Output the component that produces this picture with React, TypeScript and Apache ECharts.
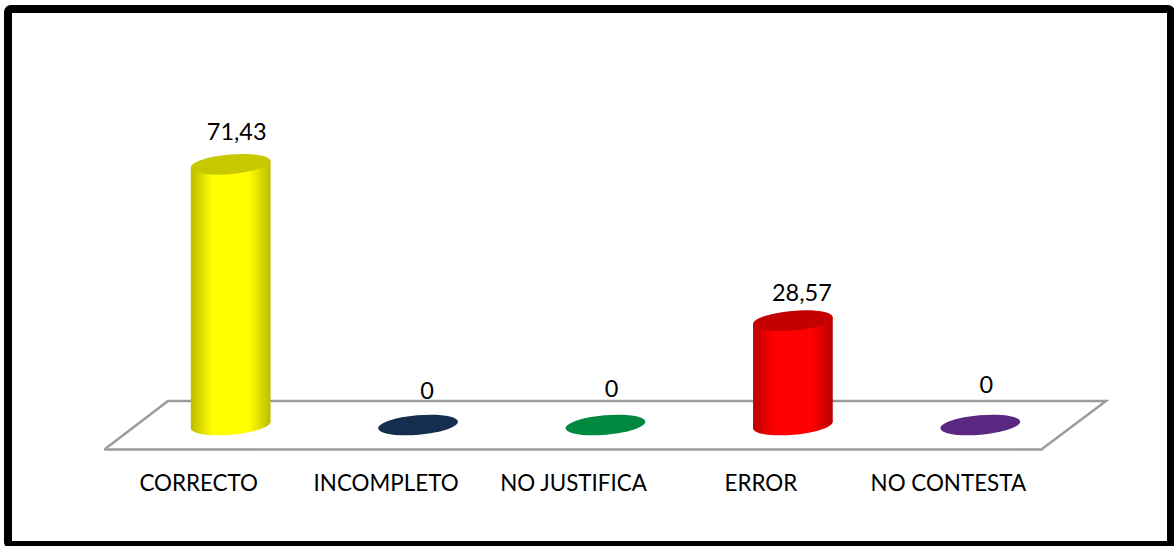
import React, { useEffect, useRef } from "react";
import * as echarts from "echarts";

const categories = ["CORRECTO", "INCOMPLETO", "NO JUSTIFICA", "ERROR", "NO CONTESTA"];
const values = [71.43, 0, 0, 28.57, 0];
const bodyColors = ["#ffff00", "#17365d", "#00893f", "#ff0000", "#5a2781"];
const edgeColors = ["#bcbc00", "#10263f", "#006a30", "#bc0000", "#3f1b5a"];
const topColors = ["#c8c800", "#152e4f", "#00893f", "#c40000", "#5a2781"];
// Hand-placed offset of each value label from the top of its cylinder, as in the source chart
const labelDx = [6, 9, 6, 9, 6];
const labelDy = [-33, -35, -37, -29, -41];

const DEPTH_X = 32;
const DEPTH_Y = -24;
const RX = 40;
const RY = 9.8;
const TILT = (5 * Math.PI) / 180;
const FONT = "Lato";

function renderCylinder(params: any, api: any) {
  const i = api.value(0);
  const v = api.value(1);
  const base = api.coord([i, 0]);
  const top = api.coord([i, v]);
  const cx = base[0] + DEPTH_X;
  const by = base[1] + DEPTH_Y;
  const ty = top[1] + DEPTH_Y;
  const dx = RX * Math.cos(TILT);
  const dy = RX * Math.sin(TILT);
  const grad = {
    type: "linear", x: 0, y: 0, x2: 1, y2: 0,
    colorStops: [
      { offset: 0, color: edgeColors[i] },
      { offset: 0.27, color: bodyColors[i] },
      { offset: 0.73, color: bodyColors[i] },
      { offset: 1, color: edgeColors[i] },
    ],
  };
  const children: any[] = [];
  if (v > 0) {
    children.push({
      type: "ellipse", x: cx, y: by, rotation: TILT,
      shape: { cx: 0, cy: 0, rx: RX, ry: RY }, style: { fill: grad },
    });
    children.push({
      type: "polygon",
      shape: { points: [[cx - dx, ty + dy], [cx + dx, ty - dy], [cx + dx, by - dy], [cx - dx, by + dy]] },
      style: { fill: grad },
    });
  }
  children.push({
    type: "ellipse", x: cx, y: ty, rotation: TILT,
    shape: { cx: 0, cy: 0, rx: RX, ry: RY }, style: { fill: topColors[i] },
  });
  children.push({
    type: "text",
    x: cx + labelDx[i], y: ty + labelDy[i],
    style: {
      text: String(v).replace(".", ","),
      fill: "#000", font: `23.5px ${FONT}`, align: "center", verticalAlign: "middle",
    },
  });
  return { type: "group", children };
}

export default function App() {
  const ref = useRef<HTMLDivElement>(null);
  useEffect(() => {
    document.body.style.margin = "0";
    const chart = echarts.init(ref.current!, null, { renderer: "svg" });
    chart.setOption({
      animation: false,
      backgroundColor: "#fff",
      grid: { left: 105, right: 132, top: 84, bottom: 97 },
      xAxis: {
        type: "category",
        data: categories,
        axisLine: { lineStyle: { color: "#9c9c9c", width: 2.5 } },
        axisTick: { show: false },
        axisLabel: { color: "#000", fontFamily: FONT, fontSize: 22.4, margin: 22, interval: 0 },
      },
      yAxis: { type: "value", min: 0, max: 100, show: false, splitLine: { show: false } },
      graphic: [
        {
          type: "polyline",
          z: 0,
          shape: { points: [[105, 449], [168, 401], [1106, 401], [1042, 449]] },
          style: { stroke: "#9c9c9c", lineWidth: 2.5, fill: "none" },
        },
        {
          type: "rect",
          z: 10,
          shape: { x: 8, y: 9, width: 1163, height: 536, r: 3 },
          style: { stroke: "#000", lineWidth: 8, fill: "none" },
        },
      ],
      series: [
        {
          type: "custom",
          renderItem: renderCylinder,
          clip: false,
          encode: { x: 0, y: 1 },
          data: values.map((v, i) => [i, v]),
        },
      ],
    });
    return () => chart.dispose();
  }, []);
  return <div ref={ref} style={{ position: "absolute", left: 0, top: 0, width: 1174, height: 546 }} />;
}
